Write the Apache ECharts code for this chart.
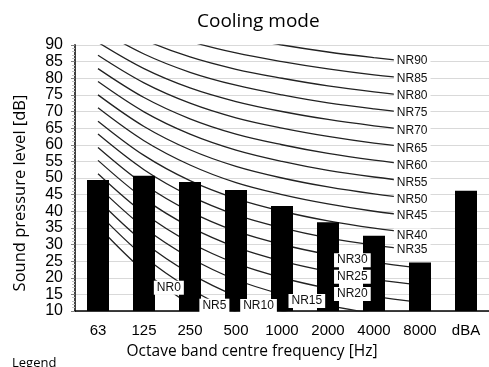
<!DOCTYPE html>
<html>
<head>
<meta charset="utf-8">
<script src="https://cdn.jsdelivr.net/npm/echarts@6/dist/echarts.min.js"></script>
<style>
  html, body { margin: 0; padding: 0; background: #fff; }
  #chart { width: 489px; height: 367px; }
</style>
</head>
<body>
<div id="chart"></div>
<script>
// octave bands and measured levels
const bands = ['63', '125', '250', '500', '1000', '2000', '4000', '8000', 'dBA'];
const levels = [49.4, 50.7, 48.8, 46.4, 41.6, 36.7, 32.6, 24.6, 46.2];

// NR rating curves, 63 Hz .. 8000 Hz
const nrNames = ['NR0', 'NR5', 'NR10', 'NR15', 'NR20', 'NR25', 'NR30', 'NR35', 'NR40', 'NR45',
  'NR50', 'NR55', 'NR60', 'NR65', 'NR70', 'NR75', 'NR80', 'NR85', 'NR90'];
const nrCurves = [
  [35.5, 22.0, 12.0, 4.8, 0, -3.5, -6.1, -8.0],
  [39.5, 26.4, 16.7, 9.7, 5, 1.6, -1.0, -2.9],
  [43.4, 30.7, 21.3, 14.5, 10, 6.7, 4.2, 2.3],
  [47.4, 35.1, 26.0, 19.4, 15, 11.7, 9.3, 7.5],
  [51.3, 39.4, 30.6, 24.3, 20, 16.8, 14.4, 12.6],
  [55.3, 43.8, 35.3, 29.2, 25, 21.9, 19.5, 17.8],
  [59.2, 48.1, 39.9, 34.0, 30, 27.0, 24.7, 22.9],
  [63.2, 52.5, 44.6, 38.9, 35, 32.0, 29.8, 28.1],
  [67.1, 56.8, 49.2, 43.8, 40, 37.1, 34.9, 33.2],
  [71.1, 61.2, 53.9, 48.6, 45, 42.2, 40.0, 38.4],
  [75.0, 65.5, 58.5, 53.5, 50, 47.3, 45.2, 43.5],
  [79.0, 69.9, 63.2, 58.4, 55, 52.3, 50.3, 48.7],
  [82.9, 74.2, 67.8, 63.2, 60, 57.4, 55.4, 53.8],
  [86.9, 78.6, 72.5, 68.1, 65, 62.5, 60.5, 59.0],
  [90.8, 82.9, 77.1, 73.0, 70, 67.6, 65.7, 64.1],
  [94.8, 87.3, 81.8, 77.9, 75, 72.6, 70.8, 69.3],
  [98.7, 91.6, 86.4, 82.7, 80, 77.7, 75.9, 74.4],
  [102.7, 96.0, 91.1, 87.6, 85, 82.8, 81.0, 79.6],
  [106.6, 100.3, 95.7, 92.5, 90, 87.9, 86.2, 84.7]
];

// where each NR tag sits (band index, dB)
const nrLabelX = [1.54, 2.53, 3.49, 4.54, 5.53, 5.53, 5.53, 6.83, 6.83, 6.83,
  6.83, 6.83, 6.83, 6.83, 6.83, 6.83, 6.83, 6.83, 6.83];
const nrLabelY = [17, 11.6, 11.5, 13, 15.1, 20.3, 25.3, 28.3, 32.7, 38.7,
  43.4, 48.7, 53.7, 58.9, 64.2, 69.6, 74.7, 79.8, 85.2];

const chart = echarts.init(document.getElementById('chart'));

const curveSeries = nrCurves.map((c) => ({
  type: 'line',
  xAxisIndex: 1,
  data: c.map((v, j) => [j, v]),
  smooth: 0.35,
  symbol: 'none',
  silent: true,
  clip: true,
  lineStyle: { color: '#222', width: 1.3 },
  z: 2
}));

chart.setOption({
  animation: false,
  backgroundColor: '#fff',
  title: [
    {
      text: 'Cooling mode',
      left: 192,
      top: 7,
      textStyle: { fontFamily: 'Open Sans', fontSize: 19, fontWeight: 'normal', color: '#000' }
    },
    {
      text: 'Legend',
      left: 7,
      top: 352,
      textStyle: { fontFamily: 'Open Sans', fontSize: 13, fontWeight: 'normal', color: '#000' }
    }
  ],
  grid: { left: 75, top: 45, right: -5, bottom: 56 },
  xAxis: [
    {
      type: 'category',
      data: bands,
      axisLine: { lineStyle: { color: '#000', width: 1.5 } },
      axisTick: { show: false },
      axisLabel: { color: '#000', fontFamily: 'Liberation Sans', fontSize: 15, margin: 12 }
    },
    { type: 'value', min: -0.5, max: 8.5, show: false }
  ],
  yAxis: {
    type: 'value',
    min: 10,
    max: 90,
    interval: 5,
    axisLine: { show: true, onZero: false, lineStyle: { color: '#404040', width: 2 } },
    axisTick: { show: true, length: 4, lineStyle: { color: '#808080' } },
    minorTick: { show: true, splitNumber: 5, length: 3, lineStyle: { color: '#c0c0c0' } },
    splitLine: { lineStyle: { color: '#d9d9d9', width: 1 } },
    axisLabel: { color: '#000', fontFamily: 'Liberation Sans', fontSize: 16, margin: 12 }
  },
  graphic: [
    {
      type: 'text',
      x: 20,
      y: 193,
      rotation: Math.PI / 2,
      style: {
        text: 'Sound pressure level [dB]',
        fontFamily: 'Open Sans',
        fontSize: 16.5,
        fill: '#000',
        align: 'center',
        verticalAlign: 'middle'
      }
    },
    {
      type: 'text',
      x: 252,
      y: 352,
      style: {
        text: 'Octave band centre frequency [Hz]',
        fontFamily: 'Open Sans',
        fontSize: 15.5,
        fill: '#000',
        align: 'center',
        verticalAlign: 'middle'
      }
    }
  ],
  series: curveSeries.concat([
    {
      type: 'bar',
      xAxisIndex: 0,
      data: levels,
      barWidth: 22,
      itemStyle: { color: '#000' },
      z: 3
    },
    {
      type: 'scatter',
      xAxisIndex: 1,
      symbol: 'rect',
      symbolSize: 1,
      itemStyle: { color: '#fff', opacity: 1 },
      silent: true,
      data: nrNames.map((n, k) => ({ name: n, value: [nrLabelX[k], nrLabelY[k]] })),
      label: {
        show: true,
        position: 'inside',
        formatter: '{b}',
        fontFamily: 'Liberation Sans',
        fontSize: 12,
        color: '#111',
        opacity: 1,
        backgroundColor: '#ffffff',
        padding: [1, 3]
      },
      labelLayout: { hideOverlap: false },
      z: 5
    }
  ])
});
</script>
</body>
</html>
